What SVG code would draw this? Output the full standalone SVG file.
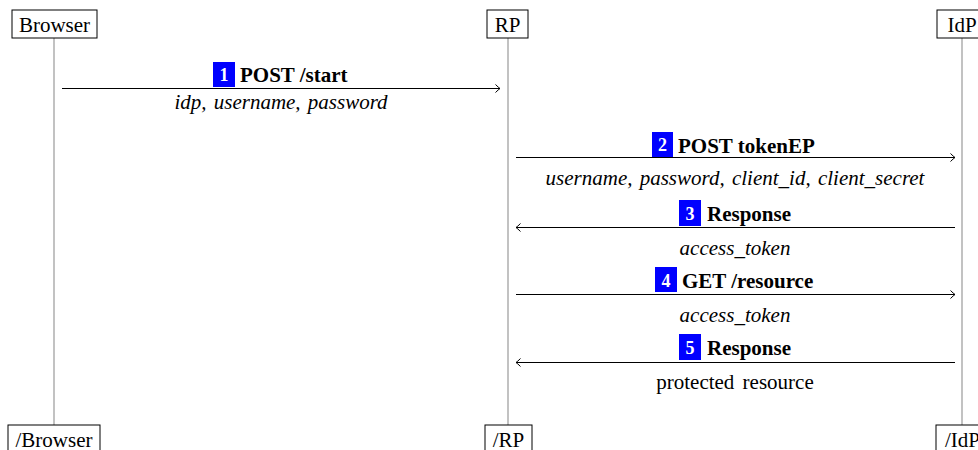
<svg xmlns="http://www.w3.org/2000/svg" width="978" height="450" viewBox="0 0 978 450">
<style>
text{font-family:"Liberation Serif","Times New Roman",serif;font-size:21px;fill:#000}
.box{fill:#fff;stroke:#000;stroke-width:1}
.life{stroke:#999;stroke-width:1.2}
.msg{stroke:#000;stroke-width:1;fill:none}
.lbl{font-weight:bold}
.num{fill:#0000ff}
.numt{fill:#fff;font-weight:bold;font-size:18px;text-anchor:middle}
.sub{font-style:italic;text-anchor:middle;word-spacing:2px}
.plain{text-anchor:middle;word-spacing:3px}
.nm{text-anchor:middle}
</style>
<defs>
<marker id="ah" markerUnits="userSpaceOnUse" markerWidth="12" markerHeight="12" viewBox="-6 -6 12 12" refX="0" refY="0" orient="auto">
<path d="M -4.5 -4 Q -1.5 -1 0 0 Q -1.5 1 -4.5 4" fill="none" stroke="#000" stroke-width="1"/>
</marker>
</defs>
<g id="lifelines">
<line class="life" x1="54" y1="38" x2="54" y2="425"/>
<line class="life" x1="508" y1="38" x2="508" y2="425"/>
<line class="life" x1="962" y1="38" x2="962" y2="425"/>
</g>
<g id="browser"><rect class="box" x="12" y="10" width="85" height="28"/><text class="nm" x="54.5" y="32">Browser</text></g>
<g id="rp"><rect class="box" x="487" y="10" width="41" height="28"/><text class="nm" x="507.5" y="32">RP</text></g>
<g id="idp"><rect class="box" x="937" y="10" width="50" height="28"/><text class="nm" x="962" y="32">IdP</text></g>
<g id="browser-end"><rect class="box" x="8" y="425" width="92" height="30"/><text class="nm" x="54" y="447">/Browser</text></g>
<g id="rp-end"><rect class="box" x="485" y="425" width="47" height="30"/><text class="nm" x="508.5" y="447">/RP</text></g>
<g id="idp-end"><rect class="box" x="936" y="425" width="55" height="30"/><text class="nm" x="962.5" y="447">/IdP</text></g>
<g id="connectors">
<line class="msg" x1="62" y1="88.5" x2="500" y2="88.5" marker-end="url(#ah)"/>
<line class="msg" x1="516" y1="157.5" x2="955" y2="157.5" marker-end="url(#ah)"/>
<line class="msg" x1="955" y1="227.5" x2="516" y2="227.5" marker-end="url(#ah)"/>
<line class="msg" x1="516" y1="294.5" x2="955" y2="294.5" marker-end="url(#ah)"/>
<line class="msg" x1="955" y1="362.5" x2="516" y2="362.5" marker-end="url(#ah)"/>
</g>
<g id="labels">
<rect class="num" x="213" y="62" width="22" height="25"/><text class="numt" x="224" y="81">1</text>
<text class="lbl" x="240" y="82">POST /start</text>
<text class="sub" x="281" y="109">idp, username, password</text>
<rect class="num" x="652" y="132" width="21" height="25"/><text class="numt" x="662.5" y="151">2</text>
<text class="lbl" x="678" y="153">POST tokenEP</text>
<text class="sub" x="735" y="185">username, password, client_id, client_secret</text>
<rect class="num" x="679" y="200" width="22" height="26"/><text class="numt" x="690" y="220">3</text>
<text class="lbl" x="707" y="221">Response</text>
<text class="sub" x="735" y="255">access_token</text>
<rect class="num" x="655" y="267" width="22" height="25"/><text class="numt" x="666" y="287">4</text>
<text class="lbl" x="682" y="288">GET /resource</text>
<text class="sub" x="735" y="322">access_token</text>
<rect class="num" x="679" y="334" width="22" height="26"/><text class="numt" x="690" y="354">5</text>
<text class="lbl" x="707" y="355">Response</text>
<text class="plain" x="735" y="389">protected resource</text>
</g>
</svg>
